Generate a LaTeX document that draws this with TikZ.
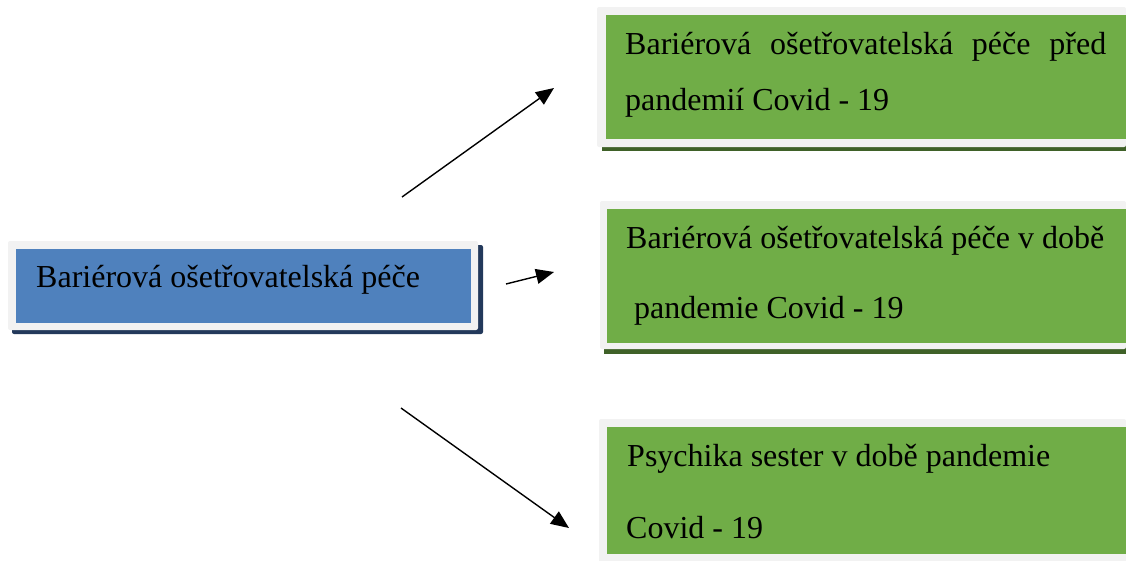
\documentclass[tikz,border=0pt]{standalone}
\usepackage{fontspec}
\setmainfont{Liberation Serif}
\usetikzlibrary{arrows.meta}
\definecolor{boxblue}{HTML}{4F81BD}
\definecolor{boxgreen}{HTML}{70AD47}
\definecolor{framegray}{HTML}{F2F2F2}
\definecolor{shadowblue}{HTML}{23395B}
\definecolor{shadowgreen}{HTML}{3F6128}
\tikzset{
  inner/.style={inner sep=0pt, outer sep=0pt, anchor=north west},
  lbl/.style={inner sep=0pt, anchor=base west, font=\fontsize{32}{38}\selectfont, text=black},
  conn/.style={line width=1.4pt, -{Triangle[length=18pt,width=15pt]}},
}
\begin{document}
\begin{tikzpicture}[x=1pt,y=-1pt]
\useasboundingbox (0,0) rectangle (1126,560);
% left box
\fill[shadowblue, rounded corners=2pt] (12,245) rectangle (483,334);
\fill[framegray, rounded corners=2pt] (8,241) rectangle (478,330);
\node[inner, fill=boxblue, minimum width=455pt, minimum height=74pt] (main) at (16,249) {};
\node[lbl] (maintxt) at (36,287) {Bariérová ošetřovatelská péče};
% green box 1
\fill[shadowgreen] (602,12) rectangle (1126,151);
\fill[framegray, rounded corners=2pt] (597,7) rectangle (1126,147);
\node[inner, fill=boxgreen, minimum width=520pt, minimum height=124pt] (g1) at (606,15) {};
\node[lbl] (g1a) at (625,54) {\makebox[481pt][s]{Bariérová ošetřovatelská péče před}};
\node[lbl] (g1b) at (625,110) {pandemií Covid - 19};
% green box 2
\fill[shadowgreen] (604,205) rectangle (1126,354);
\fill[framegray, rounded corners=2pt] (600,201) rectangle (1126,349);
\node[inner, fill=boxgreen, minimum width=519pt, minimum height=134pt] (g2) at (607,209) {};
\node[lbl] (g2a) at (626,248) {Bariérová ošetřovatelská péče v době};
\node[lbl] (g2b) at (634,318) {pandemie Covid - 19};
% green box 3
\fill[framegray, rounded corners=2pt] (599,419) rectangle (1126,566);
\node[inner, fill=boxgreen, minimum width=519pt, minimum height=127pt] (g3) at (607,427) {};
\node[lbl] (g3a) at (627,466) {Psychika sester v době pandemie};
\node[lbl] (g3b) at (626,538) {Covid - 19};
% connectors
\coordinate (s1) at (402,197);
\coordinate (e1) at (554,88);
\coordinate (s2) at (506,284);
\coordinate (e2) at (554,272);
\coordinate (s3) at (401,408);
\coordinate (e3) at (569,528);
\draw[conn] (s1) -- (e1);
\draw[conn] (s2) -- (e2);
\draw[conn] (s3) -- (e3);
\end{tikzpicture}
\end{document}
